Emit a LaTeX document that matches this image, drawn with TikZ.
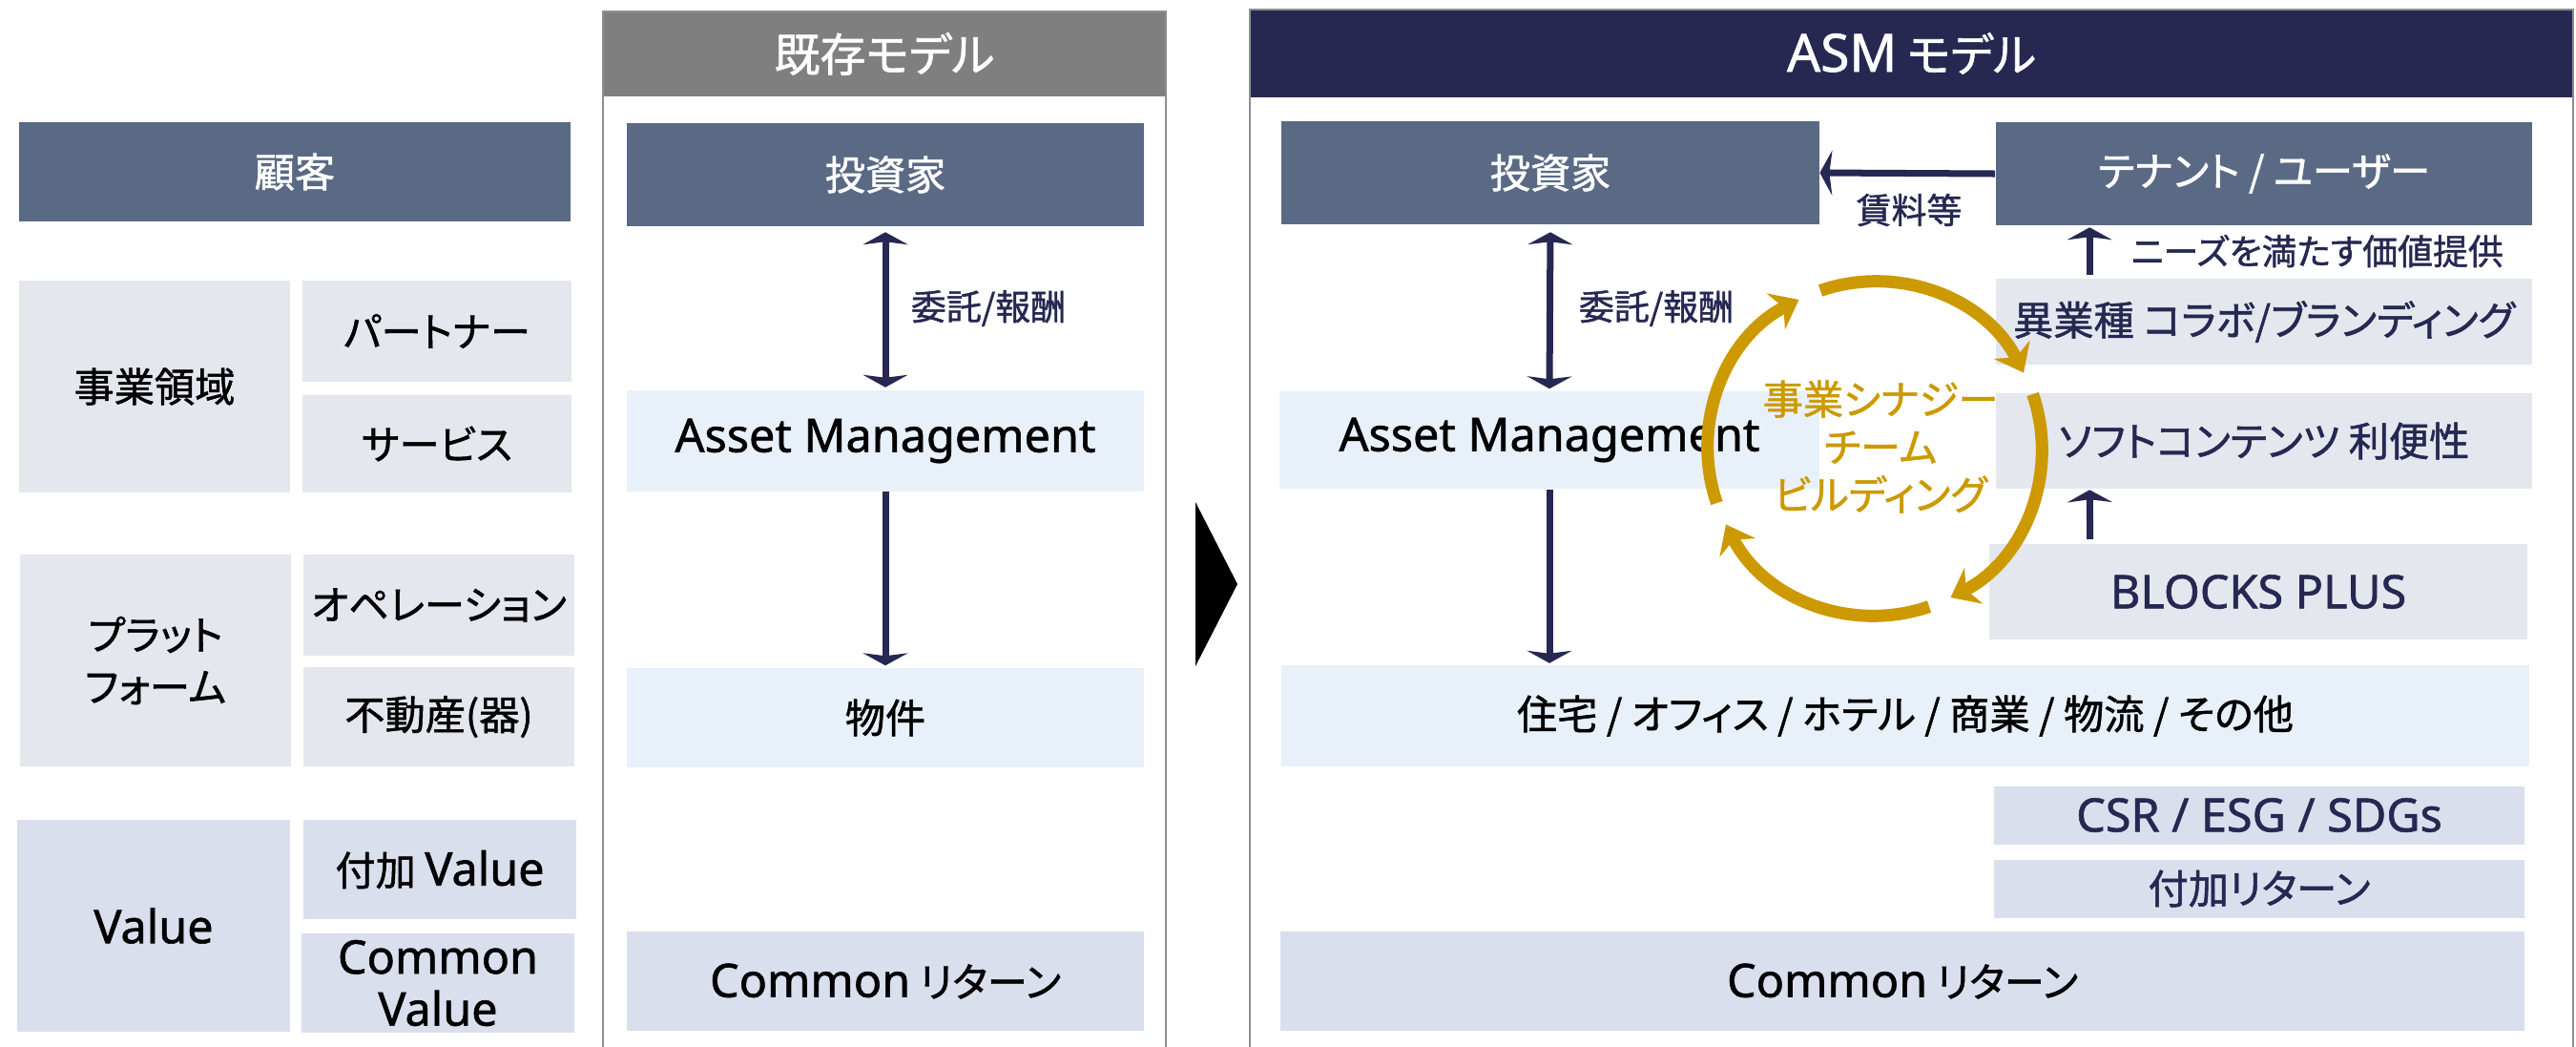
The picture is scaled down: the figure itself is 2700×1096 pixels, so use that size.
\documentclass[tikz,border=0pt]{standalone}
\usepackage{fontspec}
\setmainfont{Noto Sans CJK JP}[RawFeature={+palt}, RawFeature={embolden=1.2}]
\newfontfamily\latin{Noto Sans}[Scale=1.15, RawFeature={embolden=1.2}]
\usetikzlibrary{arrows.meta,calc}
\def\ringarc[#1](#2)(#3:#4:#5){\draw[#1] ($(#2)+(#3:#5)$) arc[start angle=#3, end angle=#4, radius=#5];}

\definecolor{slate}{HTML}{5A6A85}
\definecolor{pale}{HTML}{E4E7EE}
\definecolor{iceblue}{HTML}{E8F0F9}
\definecolor{lilac}{HTML}{DADFEE}
\definecolor{navy}{HTML}{262852}
\definecolor{gold}{HTML}{CC9900}
\definecolor{headgray}{HTML}{7F7F7F}
\definecolor{linegray}{HTML}{8F8F8F}

\tikzset{
	navytip/.tip={Stealth[length=0.13cm, width=0.47cm, inset=0.03cm]},
	goldtip/.tip={Stealth[length=0.27cm, width=0.42cm, inset=0.09cm]},
	wh/.style 2 args={minimum width=#1cm, minimum height=#2cm},
	cell/.style={inner sep=0pt, align=center, font=\fontsize{12}{15.5}\selectfont},
	darkcell/.style={cell, fill=slate, text=white},
	greycell/.style={cell, fill=pale},
	icecell/.style={cell, fill=iceblue},
	lilaccell/.style={cell, fill=lilac},
	headcell/.style={cell, text=white, font=\fontsize{13.6}{16}\selectfont},
	lbl/.style={inner sep=0pt, text=navy, font=\fontsize{10.5}{12}\selectfont},
	flow/.style={line width=0.07cm, color=navy, -navytip},
	ring/.style={line width=0.13cm, color=gold, -goldtip},
	boxline/.style={line width=0.025cm, color=linegray},
}

\begin{document}
\begin{tikzpicture}[x=0.01cm, y=-0.01cm]
		%%%%% START %%%%%
		\useasboundingbox (0,0) rectangle (2700,1096);
		
		% left column
		\node[darkcell, wh={5.78}{1.03}] (guest) at (309,180) {顧客};
		\node[greycell, wh={2.83}{2.21}] (domain) at (162,405) {事業領域};
		\node[greycell, wh={2.81}{1.05}] (partner) at (458,347) {パートナー};
		\node[greycell, wh={2.81}{1.01}] (service) at (458,465) {サービス};
		\node[greycell, wh={2.84}{2.22}] (platform) at (163,692) {プラット\\フォーム};
		\node[greycell, wh={2.83}{1.05}] (operation) at (460,634) {オペレーション};
		\node[greycell, wh={2.83}{1.04}] (realestate) at (460,751) {不動産(器)};
		\node[lilaccell, wh={2.85}{2.22}] (value) at (161,970) {{\latin Value}};
		\node[lilaccell, wh={2.86}{1.04}] (addvalue) at (461,911) {付加 {\latin Value}};
		\node[lilaccell, wh={2.85}{1.03}] (comvalue) at (459,1030) {{\latin Common}\\{\latin Value}};
		
		% existing model
		\node[headcell, fill=headgray, wh={5.90}{0.89}] (oldhead) at (927,56.5) {既存モデル};
		\draw[boxline] (632,1100) -- (632,12) -- (1222,12) -- (1222,1100);
		\node[darkcell, wh={5.42}{1.07}] (inv1) at (928,183) {投資家};
		\node[icecell, wh={5.42}{1.05}] (am1) at (928,462) {{\latin Asset Management}};
		\node[icecell, wh={5.42}{1.04}] (prop1) at (928,752) {物件};
		\node[lilaccell, wh={5.42}{1.04}] (ret1) at (928,1028) {{\latin Common} リターン};
		
		\draw[flow, navytip-navytip, shorten <=0.06cm, shorten >=0.03cm] (inv1.south) -- (am1.north);
		\node[lbl] (fee1) at (1036,323) {委託/報酬};
		\draw[flow, shorten >=0.02cm] (am1.south) -- (prop1.north);
		
		\fill[black] (1253,526) -- (1297,612) -- (1253,698) -- cycle;
		
		% ASM model
		\node[headcell, fill=navy, wh={13.87}{0.92}] (asmhead) at (2003.5,56) {{\latin ASM} モデル};
		\draw[boxline] (1310,1100) -- (1310,10) -- (2697,10) -- (2697,1100);
		\node[darkcell, wh={5.63}{1.07}] (inv2) at (1625,181) {投資家};
		\node[darkcell, wh={5.62}{1.07}] (tenant) at (2373,182) {テナント / ユーザー};
		\node[greycell, text=navy, wh={5.62}{0.90}] (collab) at (2373,337) {異業種 コラボ/ブランディング};
		\node[greycell, text=navy, wh={5.62}{0.99}] (soft) at (2373,462) {ソフトコンテンツ 利便性};
		\node[greycell, text=navy, wh={5.63}{0.99}] (blocks) at (2367,620) {{\latin BLOCKS PLUS}};
		\node[icecell, wh={5.65}{1.02}] (am2) at (1624,461) {{\latin Asset Management}};
		\node[icecell, wh={13.07}{1.05}] (usage) at (1997,750) {住宅 / オフィス / ホテル / 商業 / 物流 / その他};
		\node[lilaccell, text=navy, wh={5.56}{0.61}] (csr) at (2368,854) {{\latin CSR / ESG / SDGs}};
		\node[lilaccell, text=navy, wh={5.56}{0.61}] (addret) at (2368,931) {付加リターン};
		\node[lilaccell, wh={13.04}{1.04}] (ret2) at (1994,1028) {{\latin Common} リターン};
		
		\draw[flow] (tenant.west) -- (inv2.east);
		\node[lbl] (rent) at (2001,220) {賃料等};
		\draw[flow, shorten <=0.03cm, shorten >=0.02cm] ([xshift=0.99cm]collab.north west) -- ([xshift=0.99cm]tenant.south west);
		\node[lbl, anchor=west] (needs) at (2233,263) {ニーズを満たす価値提供};
		\draw[flow, shorten <=0.05cm, shorten >=0.01cm] ([xshift=1.06cm]blocks.north west) -- ([xshift=0.99cm]soft.south west);
		\draw[flow, navytip-navytip, shorten <=0.08cm, shorten >=0.02cm] (inv2.south) -- (am2.north);
		\node[lbl] (fee2) at (1736,323) {委託/報酬};
		\draw[flow, shorten >=0.02cm] (am2.south) -- (am2.south |- usage.north);
		
		% synergy ring
		\coordinate (hub) at (1965,470);
		\ringarc[ring](hub)(109:27:1.75cm)
		\ringarc[ring](hub)(19:-63:1.75cm)
		\ringarc[ring](hub)(-71:-153:1.75cm)
		\ringarc[ring](hub)(-161:-243:1.75cm)
		\node[inner sep=0pt, align=center, text=gold, font=\fontsize{12}{14.2}\selectfont] (synergy) at (1971,468) {事業シナジー\\チーム\\ビルディング};
		
		%%%%% END %%%%%
\end{tikzpicture}
\end{document}
